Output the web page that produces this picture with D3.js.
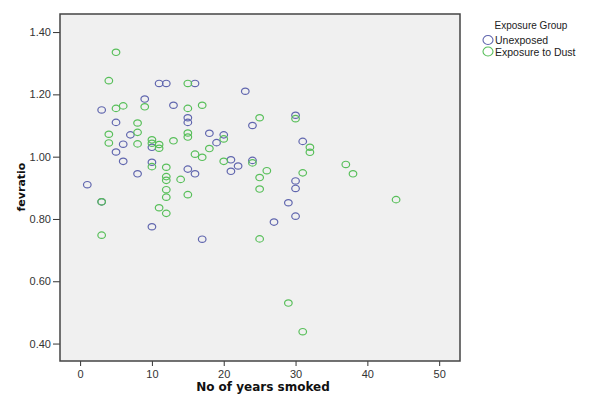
<!DOCTYPE html>
<html lang="en">
<head>
<meta charset="UTF-8">
<title>fevratio vs years smoked</title>
<script src="https://d3js.org/d3.v7.min.js"></script>
<style>
body { margin: 0; background: #fff; }
svg { font-family: "Liberation Sans", Arial, sans-serif; }
.tick text { font-size: 11px; fill: #333; }
.tick line { stroke: #333; }
.axis-title { font-family: "DejaVu Sans", sans-serif; font-weight: bold; fill: #111; }
</style>
</head>
<body>
<div id="chart"></div>
<script>
// groups
var groups = ["Unexposed", "Exposure to Dust"];

// Unexposed: [years smoked, fevratio]
var unexposed = [
  [1,0.91],[3,1.15],[3,0.855],[5,1.11],[5,1.015],[6,1.04],[6,0.985],[7,1.07],
  [8,0.945],[9,1.185],[10,1.03],[10,0.982],[10,0.775],[11,1.235],[12,1.235],
  [13,1.165],[15,1.125],[15,1.11],[15,0.96],[16,1.235],[16,0.945],[17,0.735],
  [18,1.075],[19,1.045],[20,1.07],[21,0.99],[21,0.953],[22,0.97],[23,1.21],
  [24,1.10],[24,0.988],[27,0.79],[29,0.852],[30,1.133],[30,0.922],[30,0.898],
  [30,0.809],[31,1.049]
];

// Exposure to Dust: [years smoked, fevratio]
var dust = [
  [3,0.855],[3,0.748],[4,1.244],[4,1.072],[4,1.044],[5,1.335],[5,1.155],[6,1.163],
  [8,1.108],[8,1.078],[8,1.041],[9,1.16],[10,1.054],[10,1.043],[10,0.968],
  [11,1.039],[11,1.027],[11,0.836],[12,0.966],[12,0.936],[12,0.924],[12,0.894],
  [12,0.87],[12,0.818],[13,1.051],[14,0.927],[15,1.235],[15,1.155],[15,1.076],
  [15,1.063],[15,0.878],[16,1.008],[17,1.165],[17,0.998],[18,1.026],[20,1.057],
  [20,0.985],[24,0.98],[25,1.125],[25,0.933],[25,0.896],[25,0.736],[26,0.955],
  [29,0.53],[30,1.122],[31,0.948],[31,0.438],[32,1.03],[32,1.014],[37,0.975],
  [38,0.945],[44,0.862]
];

var xTicks = [0,10,20,30,40,50];
var yTicks = [0.4,0.6,0.8,1.0,1.2,1.4];

var colors = ["#6066ae", "#58bf5a"];

var width = 590, height = 398;
var plot = {left: 60, right: 460, top: 14, bottom: 361};

var svg = d3.select("#chart").append("svg")
  .attr("width", width)
  .attr("height", height);

var xScale = d3.scaleLinear().domain([-2.8, 52.9]).range([plot.left, plot.right]);
var yScale = d3.scaleLinear().domain([0.344, 1.458]).range([plot.bottom, plot.top]);

// plot background
svg.append("rect")
  .attr("x", plot.left).attr("y", plot.top)
  .attr("width", plot.right - plot.left)
  .attr("height", plot.bottom - plot.top)
  .attr("fill", "#f0f0f0");

// axes
var xAxis = d3.axisBottom(xScale).tickValues(xTicks).tickSize(5).tickSizeOuter(0)
  .tickFormat(d3.format("d"));
var yAxis = d3.axisLeft(yScale).tickValues(yTicks).tickSize(7).tickSizeOuter(0)
  .tickFormat(d3.format(".2f"));

var gx = svg.append("g")
  .attr("transform", "translate(0," + plot.bottom + ")")
  .call(xAxis);
gx.select(".domain").remove();
gx.selectAll(".tick text").attr("dy", "0.85em");

var gy = svg.append("g")
  .attr("transform", "translate(" + plot.left + ",0)")
  .call(yAxis);
gy.select(".domain").remove();
gy.selectAll(".tick text").attr("x", -9);

// points
var series = [unexposed, dust];
series.forEach(function(data, i) {
  svg.append("g").selectAll("ellipse")
    .data(data)
    .enter()
    .append("ellipse")
    .attr("cx", function(d){ return xScale(d[0]); })
    .attr("cy", function(d){ return yScale(d[1]); })
    .attr("rx", 3.8)
    .attr("ry", 3.2)
    .attr("fill", "none")
    .attr("stroke", colors[i])
    .attr("stroke-width", 1.2);
});

// frame
svg.append("rect")
  .attr("x", plot.left).attr("y", plot.top)
  .attr("width", plot.right - plot.left)
  .attr("height", plot.bottom - plot.top)
  .attr("fill", "none")
  .attr("stroke", "#444")
  .attr("stroke-width", 1.5);

// axis titles
svg.append("text")
  .attr("class", "axis-title")
  .attr("x", 263).attr("y", 391)
  .attr("text-anchor", "middle")
  .style("font-size", "12px")
  .text("No of years smoked");

svg.append("text")
  .attr("class", "axis-title")
  .attr("transform", "translate(25,187) rotate(-90)")
  .attr("text-anchor", "middle")
  .style("font-size", "11px")
  .text("fevratio");

// legend
svg.append("text")
  .attr("x", 531).attr("y", 29)
  .attr("text-anchor", "middle")
  .style("font-size", "10px")
  .attr("fill", "#222")
  .text("Exposure Group");

var legend = svg.append("g").selectAll("g")
  .data(groups)
  .enter()
  .append("g")
  .attr("transform", function(d, i){ return "translate(488," + (40 + i * 11.5) + ")"; });

legend.append("ellipse")
  .attr("rx", 5).attr("ry", 4.5)
  .attr("fill", "none")
  .attr("stroke", function(d, i){ return colors[i]; })
  .attr("stroke-width", 1.1);

legend.append("text")
  .attr("x", 7).attr("y", 4)
  .style("font-size", "10.5px")
  .attr("fill", "#222")
  .text(function(d){ return d; });
</script>
</body>
</html>
